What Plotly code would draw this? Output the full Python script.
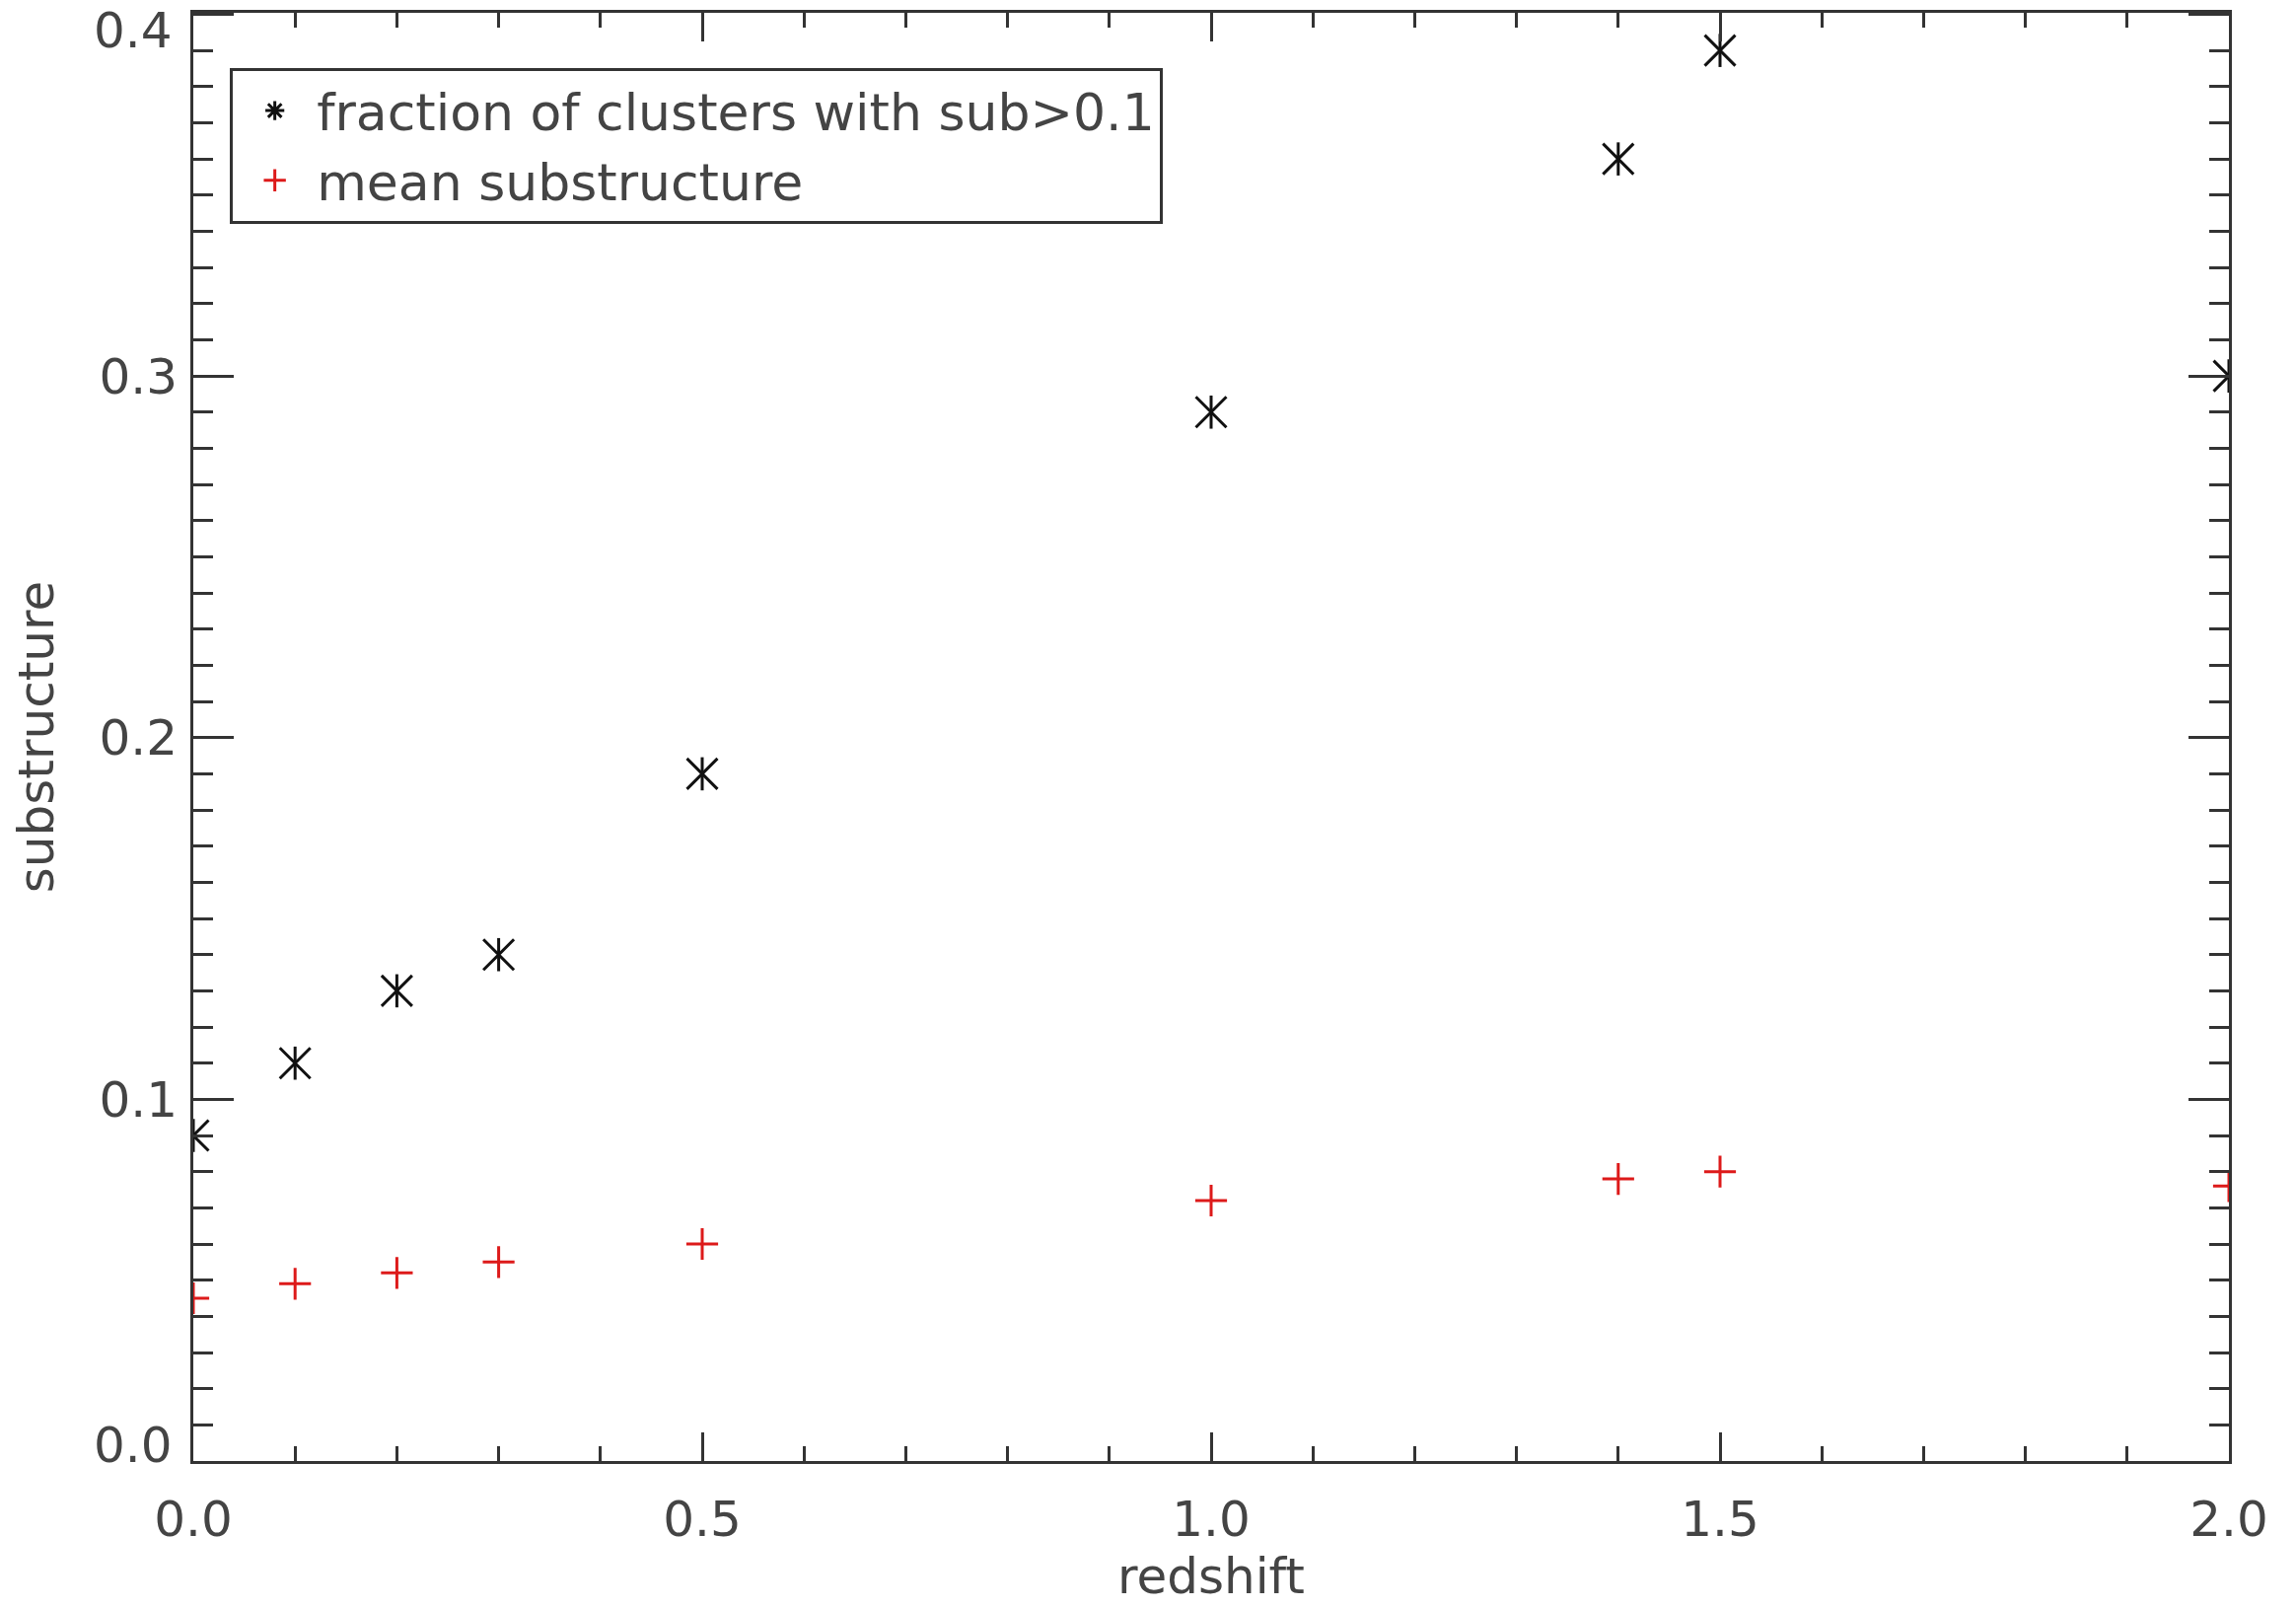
import plotly.graph_objects as go

# data
redshift = [0.0, 0.1, 0.2, 0.3, 0.5, 1.0, 1.4, 1.5, 2.0]
frac_sub = [0.090, 0.110, 0.130, 0.140, 0.190, 0.290, 0.360, 0.390, 0.300]
mean_sub = [0.045, 0.049, 0.052, 0.055, 0.060, 0.072, 0.078, 0.080, 0.076]

x_ticks = [0.0, 0.5, 1.0, 1.5, 2.0]
y_ticks = [0.0, 0.1, 0.2, 0.3, 0.4]

name_frac = "fraction of clusters with sub>0.1"
name_mean = "mean substructure"

FONT = "DejaVu Sans"
TXT = "#444444"
AX = "#333333"
RED = "#dd1a1a"

fig = go.Figure()

# asterisk drawn as X + vertical bar (IDL psym=2 look)
fig.add_trace(go.Scatter(x=redshift, y=frac_sub, mode="markers", showlegend=False,
                         marker=dict(symbol="x-thin-open", size=31, color="#111111",
                                     line=dict(width=3, color="#111111"))))
fig.add_trace(go.Scatter(x=redshift, y=frac_sub, mode="markers", showlegend=False,
                         marker=dict(symbol="line-ns-open", size=24, color="#111111",
                                     line=dict(width=3, color="#111111"))))
fig.add_trace(go.Scatter(x=redshift, y=mean_sub, mode="markers", showlegend=False,
                         marker=dict(symbol="cross-thin-open", size=23, color=RED,
                                     line=dict(width=3, color=RED))))

# legend entries
fig.add_trace(go.Scatter(x=[None], y=[None], mode="markers", name=name_frac,
                         marker=dict(symbol="asterisk-open", size=30, color="#111111",
                                     line=dict(width=3, color="#111111"))))
fig.add_trace(go.Scatter(x=[None], y=[None], mode="markers", name=name_mean,
                         marker=dict(symbol="cross-thin-open", size=30, color=RED,
                                     line=dict(width=3, color=RED))))

# y tick labels: inner ones native, end ones (as in IDL output) nudged inside the frame
y_text = [f"{v:.1f}" for v in y_ticks]
y_native_text = [t if 0 < i < len(y_ticks) - 1 else "" for i, t in enumerate(y_text)]
end_shift = {0: 16, len(y_ticks) - 1: -17}
annotations = []
for i, shift in end_shift.items():
    annotations.append(dict(x=0, xref="paper", y=y_ticks[i], yref="y", text=y_text[i],
                            showarrow=False, xanchor="right", yanchor="middle",
                            xshift=-19, yshift=shift,
                            font=dict(family=FONT, size=50, color=TXT)))

fig.update_layout(
    width=2328, height=1630,
    margin=dict(l=196, r=68, t=13, b=149),
    paper_bgcolor="white", plot_bgcolor="white",
    font=dict(family=FONT, size=50, color=TXT),
    showlegend=True,
    legend=dict(x=0.018, y=0.962, xanchor="left", yanchor="top",
                bgcolor="white", bordercolor=AX, borderwidth=3,
                font=dict(family=FONT, size=52, color=TXT),
                itemsizing="trace", tracegroupgap=0, itemwidth=75),
    annotations=annotations,
)

fig.update_xaxes(
    range=[0, 2], tickvals=x_ticks, ticktext=[f"{v:.1f}" for v in x_ticks],
    showline=True, linecolor=AX, linewidth=3, mirror="allticks",
    ticks="inside", ticklen=29, tickwidth=3, tickcolor=AX,
    showgrid=False, zeroline=False, automargin=False,
    minor=dict(dtick=0.1, ticks="inside", ticklen=15, tickwidth=3, tickcolor=AX, showgrid=False),
    tickfont=dict(family=FONT, size=50, color=TXT),
    ticklabelstandoff=13, ticklabeloverflow="allow",
    title=dict(text="redshift", font=dict(family=FONT, size=50, color=TXT), standoff=8),
)
fig.update_yaxes(
    range=[0, 0.4004], tickvals=y_ticks, ticktext=y_native_text,
    showline=True, linecolor=AX, linewidth=3, mirror="allticks",
    ticks="inside", ticklen=41, tickwidth=3, tickcolor=AX,
    showgrid=False, zeroline=False, automargin=False,
    minor=dict(dtick=0.01, ticks="inside", ticklen=20, tickwidth=3, tickcolor=AX, showgrid=False),
    tickfont=dict(family=FONT, size=50, color=TXT),
    ticklabelstandoff=3, ticklabeloverflow="allow",
    title=dict(text="substructure", font=dict(family=FONT, size=50, color=TXT), standoff=30),
)

fig.write_html("out.html")
